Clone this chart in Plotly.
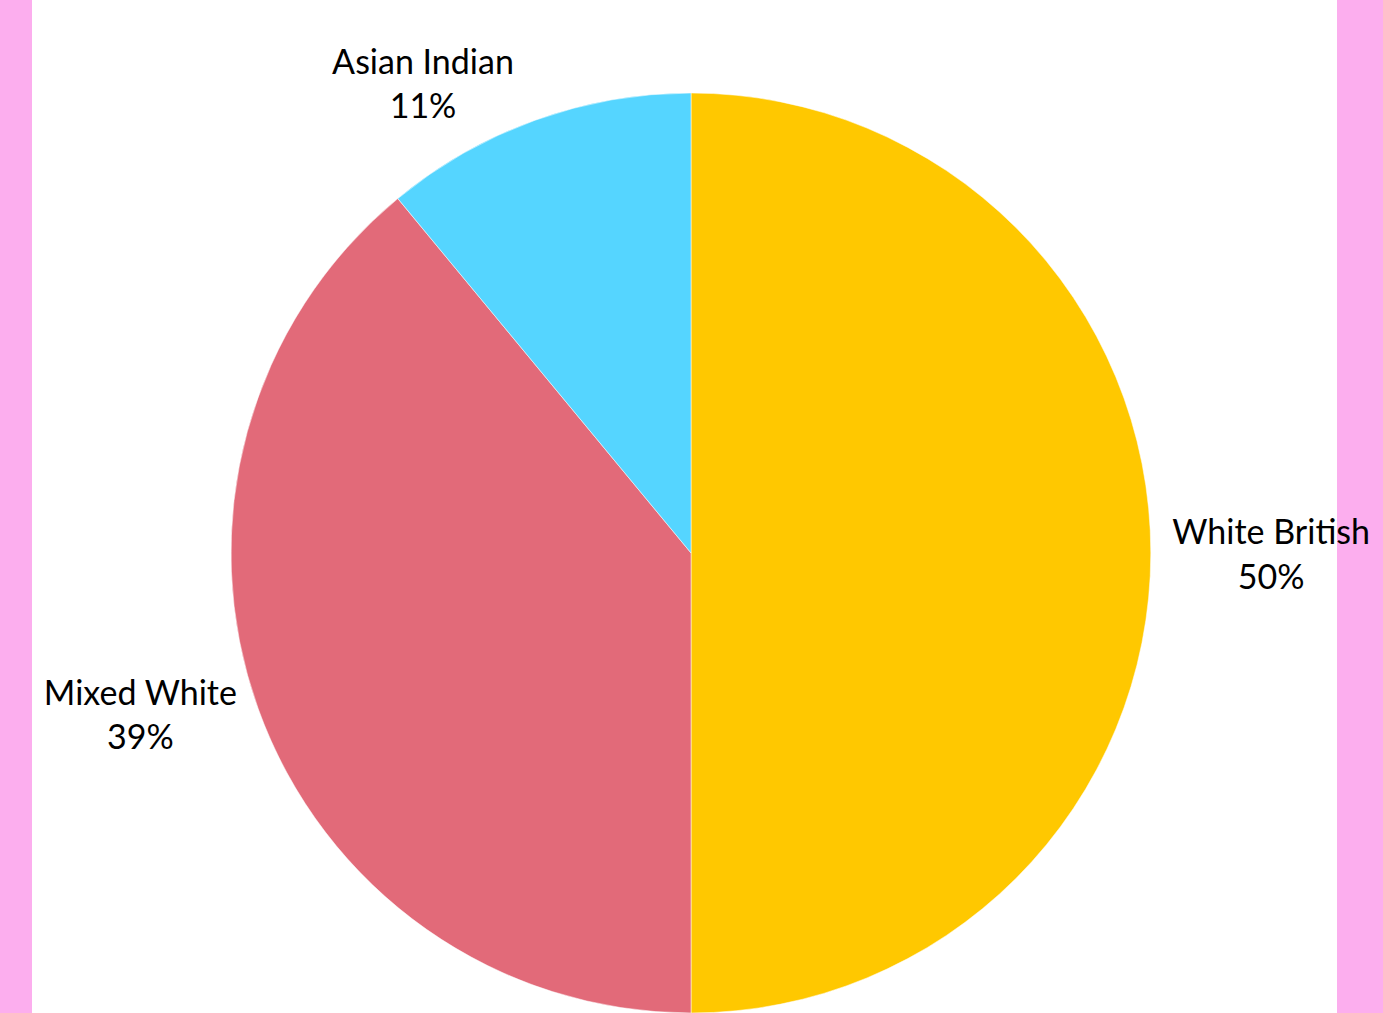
import plotly.graph_objects as go

labels = ["White British", "Mixed White", "Asian Indian"]
values = [50, 39, 11]
colors = ["#FFC800", "#E26A79", "#55D5FF"]

fig = go.Figure(go.Pie(
    labels=labels,
    values=values,
    marker=dict(colors=colors, line=dict(width=0.5, color="white")),
    textinfo="label+percent",
    textposition="outside",
    sort=False,
    direction="clockwise",
    rotation=0,
    showlegend=False,
    outsidetextfont=dict(color="black", size=34, family="Lato"),
    domain=dict(x=[0.01, 1.0], y=[0, 1]),
    automargin=False,
))

fig.update_layout(
    width=1383, height=1013,
    margin=dict(l=32, r=46, t=93, b=0),
    paper_bgcolor="#FCAEEE",
    shapes=[dict(type="rect", xref="paper", yref="paper", x0=0, x1=1, y0=-0.01, y1=1.2,
                 fillcolor="white", line=dict(width=0), layer="below")],
    font=dict(family="Lato", color="black"),
)

fig.write_html("out.html", config={"displayModeBar": False},
               post_script="document.body.style.margin='0';")
